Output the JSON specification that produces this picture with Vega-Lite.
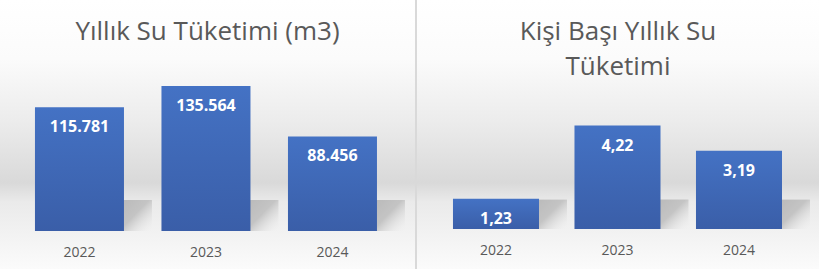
{
  "$schema": "https://vega.github.io/schema/vega-lite/v6.json",
  "padding": 0,
  "spacing": 2,
  "background": "#d9d9d9",
  "config": {
    "locale": {"number": {"decimal": ",", "thousands": ".", "grouping": [3], "currency": ["", " ₺"]}},
    "view": {"stroke": null},
    "axis": {"grid": false},
    "title": {"font": "Open Sans", "fontSize": 26, "fontWeight": "normal", "color": "#595959", "anchor": "middle", "frame": "group", "lineHeight": 35}
  },
  "datasets": {
    "total": [
      {"year": "2022", "value": 115781},
      {"year": "2023", "value": 135564},
      {"year": "2024", "value": 88456}
    ],
    "perCapita": [
      {"year": "2022", "value": 1.23},
      {"year": "2023", "value": 4.22},
      {"year": "2024", "value": 3.19}
    ]
  },
  "hconcat": [
    {
      "width": 415,
      "height": 269,
      "data": {"name": "total"},
      "title": {"text": "Yıllık Su Tüketimi (m3)", "offset": -44.5},
      "view": {"fill": {"gradient": "linear", "x1": 0, "y1": 0, "x2": 0, "y2": 1, "stops": [
        {"offset": 0, "color": "#ffffff"},
        {"offset": 0.22, "color": "#fbfbfb"},
        {"offset": 0.45, "color": "#ececec"},
        {"offset": 0.68, "color": "#d9d9d9"},
        {"offset": 0.75, "color": "#eaeaea"},
        {"offset": 1, "color": "#fbfbfb"}
      ]}, "stroke": null},
      "encoding": {
        "x": {"field": "year", "type": "nominal", "sort": null,
          "scale": {"paddingInner": 0.2964, "paddingOuter": 0.2885, "align": 0.479},
          "axis": {"title": null, "orient": "bottom", "offset": -38, "domain": false, "ticks": false, "tickSize": 0, "labelPadding": 14, "labelAngle": 0, "labelFont": "Open Sans", "labelFontSize": 14, "labelColor": "#595959"}},
        "y": {"field": "value", "type": "quantitative", "scale": {"domain": [-35556, 216140], "nice": false}, "axis": null}
      },
      "layer": [
        {"mark": {"type": "bar", "width": 30, "xOffset": 57.5, "fill": {"gradient": "linear", "x1": 0, "y1": 0, "x2": 1, "y2": 1, "stops": [{"offset": 0, "color": "#bababa"}, {"offset": 0.45, "color": "#c4c4c4"}, {"offset": 0.8, "color": "rgba(225,225,225,0.4)"}, {"offset": 1, "color": "rgba(240,240,240,0)"}]}},
          "encoding": {"y": {"datum": 29000, "type": "quantitative"}, "y2": {"datum": 0}}},
        {"mark": {"type": "bar", "fill": {"gradient": "linear", "x1": 0, "y1": 0, "x2": 0, "y2": 1, "stops": [{"offset": 0, "color": "#4472c4"}, {"offset": 1, "color": "#3a5ea8"}]}}},
        {"mark": {"type": "text", "baseline": "alphabetic", "dy": 24.7, "font": "Open Sans", "fontWeight": "bold", "fontSize": 16, "color": "#ffffff"},
          "encoding": {"text": {"field": "value", "type": "quantitative", "format": ",.0f"}}}
      ]
    },
    {
      "width": 402,
      "height": 269,
      "data": {"name": "perCapita"},
      "title": {"text": ["Kişi Başı Yıllık Su", "Tüketimi"], "offset": -79.5},
      "view": {"fill": {"gradient": "linear", "x1": 0, "y1": 0, "x2": 0, "y2": 1, "stops": [
        {"offset": 0, "color": "#ffffff"},
        {"offset": 0.22, "color": "#fbfbfb"},
        {"offset": 0.45, "color": "#ececec"},
        {"offset": 0.68, "color": "#d9d9d9"},
        {"offset": 0.75, "color": "#eaeaea"},
        {"offset": 1, "color": "#fbfbfb"}
      ]}, "stroke": null},
      "encoding": {
        "x": {"field": "year", "type": "nominal", "sort": null,
          "scale": {"paddingInner": 0.292, "paddingOuter": 0.3003, "align": 0.493},
          "axis": {"title": null, "orient": "bottom", "offset": -40, "domain": false, "ticks": false, "tickSize": 0, "labelPadding": 14, "labelAngle": 0, "labelFont": "Open Sans", "labelFontSize": 14, "labelColor": "#595959"}},
        "y": {"field": "value", "type": "quantitative", "scale": {"domain": [-1.633, 9.347], "nice": false}, "axis": null}
      },
      "layer": [
        {"mark": {"type": "bar", "width": 30, "xOffset": 56, "fill": {"gradient": "linear", "x1": 0, "y1": 0, "x2": 1, "y2": 1, "stops": [{"offset": 0, "color": "#bababa"}, {"offset": 0.45, "color": "#c4c4c4"}, {"offset": 0.8, "color": "rgba(225,225,225,0.4)"}, {"offset": 1, "color": "rgba(240,240,240,0)"}]}},
          "encoding": {"y": {"datum": 1.2, "type": "quantitative"}, "y2": {"datum": 0}}},
        {"mark": {"type": "bar", "fill": {"gradient": "linear", "x1": 0, "y1": 0, "x2": 0, "y2": 1, "stops": [{"offset": 0, "color": "#4472c4"}, {"offset": 1, "color": "#3a5ea8"}]}}},
        {"mark": {"type": "text", "baseline": "alphabetic", "dy": 25, "font": "Open Sans", "fontWeight": "bold", "fontSize": 16, "color": "#ffffff"},
          "encoding": {"text": {"field": "value", "type": "quantitative", "format": ",.2f"}}}
      ]
    }
  ]
}
